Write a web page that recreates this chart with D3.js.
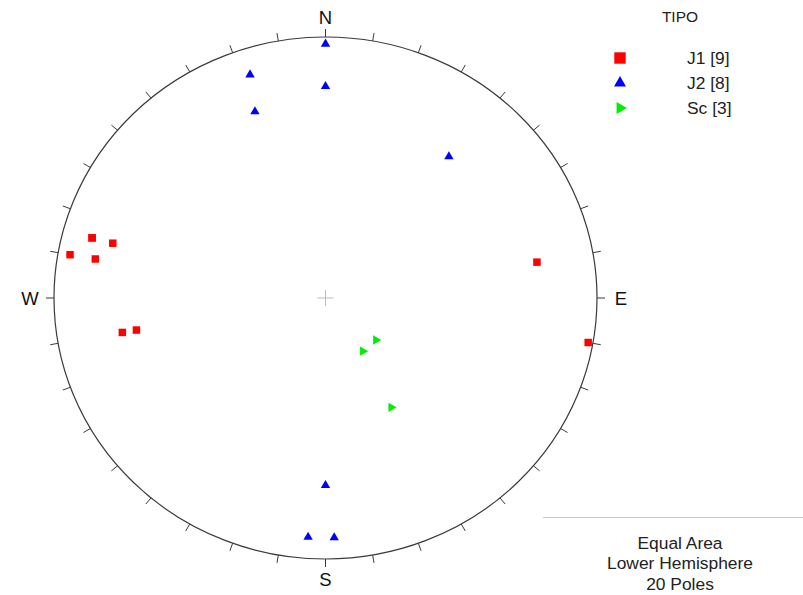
<!DOCTYPE html>
<html>
<head>
<meta charset="utf-8">
<script src="https://cdn.jsdelivr.net/npm/d3@7"></script>
<style>
  body { margin: 0; background: #fff; }
  svg { display: block; font-family: Arial, "Liberation Sans", sans-serif; }
</style>
</head>
<body>
<div id="chart"></div>
<script>
/* ============================================================
   DATA — poles as trend / plunge (degrees)
============================================================ */

const J1_TREND  = [280, 285, 285, 280, 260, 260, 80, 100, 285];
const J1_PLUNGE = [5, 12, 20, 15, 25, 30, 22, 2, 12];

const J2_TREND  = [0, 342, 0, 340, 40, 180, 184, 178];
const J2_PLUNGE = [3, 11, 20, 25, 30, 29, 9, 9];

const SC_TREND  = [131, 146, 150];
const SC_PLUNGE = [70, 70, 50];

const SETS = [
    { name: "J1", trend: J1_TREND, plunge: J1_PLUNGE, color: "#ff0000", shape: "square" },
    { name: "J2", trend: J2_TREND, plunge: J2_PLUNGE, color: "#0000ff", shape: "triangle" },
    { name: "Sc", trend: SC_TREND, plunge: SC_PLUNGE, color: "#00ee00", shape: "right" }
];

const DIRECTIONS = [
    { label: "N", az: 0 },
    { label: "E", az: 90 },
    { label: "S", az: 180 },
    { label: "W", az: 270 }
];

const INFO_LINES = ["Equal Area", "Lower Hemisphere", "20 Poles"];

/* ============================================================
   LAYOUT
============================================================ */

const W = 803, H = 595;
const cx = 325.5, cy = 298;
const rx = 271.5, ry = 261;

const svg = d3.select("#chart").append("svg")
    .attr("width", W)
    .attr("height", H);

const xScale = d3.scaleLinear().domain([-1, 1]).range([cx - rx, cx + rx]);
const yScale = d3.scaleLinear().domain([-1, 1]).range([cy + ry, cy - ry]);

const rad = d => d * Math.PI / 180;

// Schmidt (equal area) projection of a line, lower hemisphere
function project(trend, plunge) {
    const d = Math.SQRT2 * Math.sin(rad((90 - plunge) / 2));
    return [xScale(d * Math.sin(rad(trend))), yScale(d * Math.cos(rad(trend)))];
}

/* ============================================================
   PRIMITIVE CIRCLE, TICKS, CENTRE
============================================================ */

svg.append("ellipse")
    .attr("cx", cx)
    .attr("cy", cy)
    .attr("rx", rx)
    .attr("ry", ry)
    .attr("fill", "none")
    .attr("stroke", "#3a3a3a")
    .attr("stroke-width", 1.2);

const tickAz = d3.range(0, 360, 10);

svg.append("g")
    .selectAll("line")
    .data(tickAz)
    .join("line")
    .attr("x1", d => xScale(Math.sin(rad(d))))
    .attr("y1", d => yScale(Math.cos(rad(d))))
    .attr("x2", d => xScale(Math.sin(rad(d))) + 8 * Math.sin(rad(d)))
    .attr("y2", d => yScale(Math.cos(rad(d))) - 8 * Math.cos(rad(d)))
    .attr("stroke", "#3a3a3a")
    .attr("stroke-width", 1);

svg.append("g")
    .attr("stroke", "#bbb")
    .attr("stroke-width", 1)
    .call(g => {
        g.append("line").attr("x1", cx - 8).attr("x2", cx + 8).attr("y1", cy).attr("y2", cy);
        g.append("line").attr("x1", cx).attr("x2", cx).attr("y1", cy - 8).attr("y2", cy + 8);
    });

svg.append("g")
    .selectAll("text")
    .data(DIRECTIONS)
    .join("text")
    .attr("x", d => xScale(Math.sin(rad(d.az))) + 24 * Math.sin(rad(d.az)))
    .attr("y", d => yScale(Math.cos(rad(d.az))) - 20 * Math.cos(rad(d.az)))
    .attr("text-anchor", "middle")
    .attr("dominant-baseline", "central")
    .attr("font-size", "18.5px")
    .attr("fill", "#111")
    .text(d => d.label);

/* ============================================================
   POLES
============================================================ */

function symbolFor(shape, big) {
    if (shape === "square") return d3.symbol().type(d3.symbolSquare).size(big ? 130 : 56)();
    return d3.symbol().type(d3.symbolTriangle).size(big ? 62 : 38)();
}

SETS.forEach(set => {
    const pts = set.trend.map((t, i) => project(t, set.plunge[i]));
    svg.append("g")
        .selectAll("path")
        .data(pts)
        .join("path")
        .attr("d", symbolFor(set.shape))
        .attr("transform", d => `translate(${d[0]},${d[1]})` + (set.shape === "right" ? " rotate(90)" : ""))
        .attr("fill", set.color);
});

/* ============================================================
   LEGEND
============================================================ */

svg.append("text")
    .attr("x", 680)
    .attr("y", 22)
    .attr("text-anchor", "middle")
    .attr("font-size", "15.5px")
    .attr("fill", "#222")
    .text("TIPO");

const legend = svg.append("g")
    .selectAll("g")
    .data(SETS)
    .join("g")
    .attr("transform", (d, i) => `translate(620,${58 + i * 25})`);

legend.append("path")
    .attr("d", d => symbolFor(d.shape, true))
    .attr("transform", d => d.shape === "right" ? "rotate(90)" : null)
    .attr("fill", d => d.color);

legend.append("text")
    .attr("x", 67)
    .attr("y", 6)
    .attr("font-size", "17.4px")
    .attr("fill", "#222")
    .text(d => `${d.name} [${d.trend.length}]`);

/* ============================================================
   PROJECTION INFO
============================================================ */

svg.append("line")
    .attr("x1", 543)
    .attr("x2", 803)
    .attr("y1", 517.5)
    .attr("y2", 517.5)
    .attr("stroke", "#c8c8c8")
    .attr("stroke-width", 1);

svg.append("g")
    .selectAll("text")
    .data(INFO_LINES)
    .join("text")
    .attr("x", 680)
    .attr("y", (d, i) => 548.5 + i * 20.5)
    .attr("text-anchor", "middle")
    .attr("font-size", "17.4px")
    .attr("fill", "#222")
    .text(d => d);
</script>
</body>
</html>
